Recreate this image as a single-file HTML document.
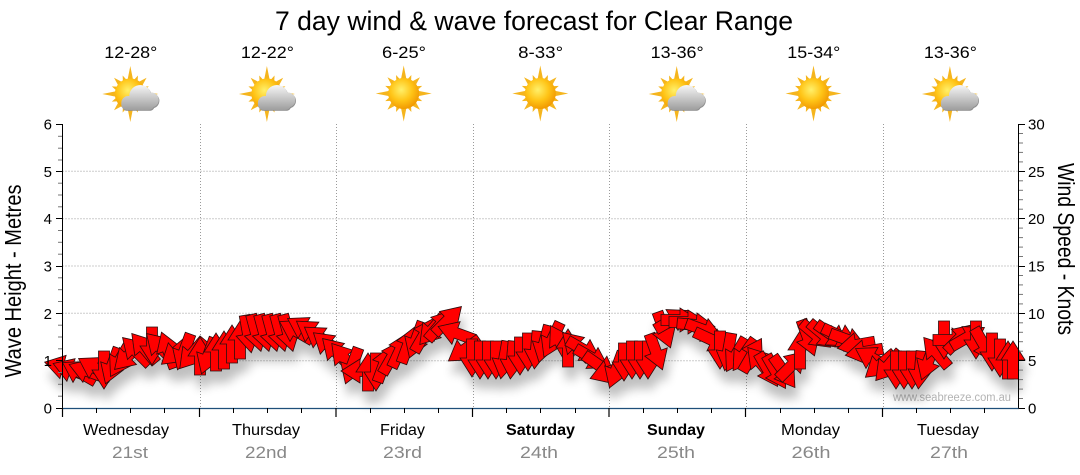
<!DOCTYPE html>
<html><head><meta charset="utf-8"><style>
html,body{margin:0;padding:0;background:#fff;}
svg{display:block;font-family:"Liberation Sans","DejaVu Sans",sans-serif;}
</style></head><body>
<svg width="1080" height="475" viewBox="0 0 1080 475" xmlns="http://www.w3.org/2000/svg">
<defs>
 <radialGradient id="sunG" cx="0.42" cy="0.38" r="0.65">
  <stop offset="0" stop-color="#fff06a"/>
  <stop offset="0.55" stop-color="#ffc416"/>
  <stop offset="1" stop-color="#f09600"/>
 </radialGradient>
 <linearGradient id="cloudG" gradientUnits="userSpaceOnUse" x1="0" y1="-9" x2="0" y2="17">
  <stop offset="0" stop-color="#f6f6f6"/><stop offset="1" stop-color="#9a9a9a"/>
 </linearGradient>
 <polygon id="rL" points="-3,-13 3,-13 0,-28"/>
 <polygon id="rM" points="-3,-13 3,-13 0,-23"/>
 <polygon id="rS" points="-2.5,-13 2.5,-13 0,-20"/>
 <g id="sun">
  <g fill="#f5b51e">
   <use href="#rL"/><use href="#rL" transform="rotate(90)"/><use href="#rL" transform="rotate(180)"/><use href="#rL" transform="rotate(270)"/>
   <use href="#rM" transform="rotate(45)"/><use href="#rM" transform="rotate(135)"/><use href="#rM" transform="rotate(225)"/><use href="#rM" transform="rotate(315)"/>
   <use href="#rS" transform="rotate(22.5)"/><use href="#rS" transform="rotate(67.5)"/><use href="#rS" transform="rotate(112.5)"/><use href="#rS" transform="rotate(157.5)"/>
   <use href="#rS" transform="rotate(202.5)"/><use href="#rS" transform="rotate(247.5)"/><use href="#rS" transform="rotate(292.5)"/><use href="#rS" transform="rotate(337.5)"/>
  </g>
  <circle r="15.5" fill="url(#sunG)"/>
 </g>
 <g id="cloud">
  <g fill="#8c8c8c" transform="translate(0.6,0.8)">
   <circle cx="10" cy="2" r="11"/><circle cx="-2" cy="9" r="7"/><circle cx="21" cy="6" r="7.5"/><rect x="-9" y="5" width="33" height="11" rx="5.5"/>
  </g>
  <g fill="url(#cloudG)">
   <circle cx="10" cy="2" r="11"/><circle cx="-2" cy="9" r="7"/><circle cx="21" cy="6" r="7.5"/><rect x="-9" y="5" width="33" height="11" rx="5.5"/>
  </g>
 </g>
 <g id="pc"><use href="#sun"/><use href="#cloud"/></g>
 <path id="ar" d="M0,-19 L12,0 L5.5,0 L5.5,19 L-5.5,19 L-5.5,0 L-12,0 Z"/>
 <filter id="sh" x="-10%" y="-40%" width="120%" height="200%">
  <feGaussianBlur in="SourceAlpha" stdDeviation="5"/>
  <feOffset dx="3" dy="12" result="b"/>
  <feComponentTransfer><feFuncA type="linear" slope="0.25"/></feComponentTransfer>
  <feMerge><feMergeNode/><feMergeNode in="SourceGraphic"/></feMerge>
 </filter>
</defs>

<text x="534" y="30" font-size="27" text-anchor="middle" textLength="518" lengthAdjust="spacingAndGlyphs" fill="#000">7 day wind &amp; wave forecast for Clear Range</text>

<g font-size="17" text-anchor="middle" fill="#000">
 <text x="130.8" y="58" textLength="53" lengthAdjust="spacingAndGlyphs">12-28°</text>
 <text x="267.4" y="58" textLength="53" lengthAdjust="spacingAndGlyphs">12-22°</text>
 <text x="404" y="58" textLength="44" lengthAdjust="spacingAndGlyphs">6-25°</text>
 <text x="540.6" y="58" textLength="45" lengthAdjust="spacingAndGlyphs">8-33°</text>
 <text x="677.2" y="58" textLength="53" lengthAdjust="spacingAndGlyphs">13-36°</text>
 <text x="813.8" y="58" textLength="53" lengthAdjust="spacingAndGlyphs">15-34°</text>
 <text x="950.4" y="58" textLength="53" lengthAdjust="spacingAndGlyphs">13-36°</text>
</g>

<use href="#pc" transform="translate(130.3,94)"/>
<use href="#pc" transform="translate(266.9,94)"/>
<use href="#sun" transform="translate(403.7,93.5)"/>
<use href="#sun" transform="translate(540.3,93.5)"/>
<use href="#pc" transform="translate(676.7,94)"/>
<use href="#sun" transform="translate(813.5,93.5)"/>
<use href="#pc" transform="translate(949.9,94)"/>

<g stroke="#9a9a9a" stroke-width="1" stroke-dasharray="1,2" fill="none">
 <line x1="62.5" y1="360.7" x2="1018" y2="360.7"/>
 <line x1="62.5" y1="313.3" x2="1018" y2="313.3"/>
 <line x1="62.5" y1="266" x2="1018" y2="266"/>
 <line x1="62.5" y1="218.7" x2="1018" y2="218.7"/>
 <line x1="62.5" y1="171.3" x2="1018" y2="171.3"/>
 <line x1="200.5" y1="124" x2="200.5" y2="408"/>
 <line x1="336.5" y1="124" x2="336.5" y2="408"/>
 <line x1="473.5" y1="124" x2="473.5" y2="408"/>
 <line x1="609.5" y1="124" x2="609.5" y2="408"/>
 <line x1="746.5" y1="124" x2="746.5" y2="408"/>
 <line x1="883.5" y1="124" x2="883.5" y2="408"/>
</g>

<text x="952" y="401" font-size="11.5" text-anchor="middle" fill="#b4b4b4" textLength="118" lengthAdjust="spacingAndGlyphs">www.seabreeze.com.au</text>

<g fill="#ff0000" stroke="#2a0a0a" stroke-width="0.8" filter="url(#sh)">
<use href="#ar" transform="translate(63,367) rotate(285)"/>
<use href="#ar" transform="translate(71,370) rotate(290)"/>
<use href="#ar" transform="translate(79,372) rotate(300)"/>
<use href="#ar" transform="translate(87,371) rotate(290)"/>
<use href="#ar" transform="translate(95,368) rotate(300)"/>
<use href="#ar" transform="translate(104,370) rotate(180)"/>
<use href="#ar" transform="translate(112,366) rotate(200)"/>
<use href="#ar" transform="translate(120,360) rotate(210)"/>
<use href="#ar" transform="translate(128,356) rotate(225)"/>
<use href="#ar" transform="translate(136,351) rotate(315)"/>
<use href="#ar" transform="translate(144,348) rotate(320)"/>
<use href="#ar" transform="translate(152,346) rotate(180)"/>
<use href="#ar" transform="translate(160,347) rotate(315)"/>
<use href="#ar" transform="translate(168,350) rotate(340)"/>
<use href="#ar" transform="translate(176,352) rotate(230)"/>
<use href="#ar" transform="translate(184,352) rotate(200)"/>
<use href="#ar" transform="translate(192,354) rotate(220)"/>
<use href="#ar" transform="translate(200,356) rotate(0)"/>
<use href="#ar" transform="translate(208,356) rotate(200)"/>
<use href="#ar" transform="translate(216,352) rotate(0)"/>
<use href="#ar" transform="translate(224,350) rotate(0)"/>
<use href="#ar" transform="translate(232,344) rotate(0)"/>
<use href="#ar" transform="translate(240,340) rotate(0)"/>
<use href="#ar" transform="translate(248,334) rotate(170)"/>
<use href="#ar" transform="translate(256,333) rotate(165)"/>
<use href="#ar" transform="translate(264,333) rotate(165)"/>
<use href="#ar" transform="translate(272,333) rotate(165)"/>
<use href="#ar" transform="translate(280,333) rotate(165)"/>
<use href="#ar" transform="translate(288,333) rotate(165)"/>
<use href="#ar" transform="translate(296,331) rotate(300)"/>
<use href="#ar" transform="translate(304,328) rotate(300)"/>
<use href="#ar" transform="translate(312,332) rotate(305)"/>
<use href="#ar" transform="translate(320,338) rotate(305)"/>
<use href="#ar" transform="translate(328,345) rotate(310)"/>
<use href="#ar" transform="translate(336,352) rotate(315)"/>
<use href="#ar" transform="translate(344,358) rotate(320)"/>
<use href="#ar" transform="translate(352,366) rotate(200)"/>
<use href="#ar" transform="translate(360,371) rotate(270)"/>
<use href="#ar" transform="translate(368,372) rotate(0)"/>
<use href="#ar" transform="translate(376,372) rotate(180)"/>
<use href="#ar" transform="translate(384,364) rotate(20)"/>
<use href="#ar" transform="translate(392,357) rotate(30)"/>
<use href="#ar" transform="translate(400,350) rotate(25)"/>
<use href="#ar" transform="translate(408,345) rotate(20)"/>
<use href="#ar" transform="translate(416,340) rotate(200)"/>
<use href="#ar" transform="translate(424,335) rotate(30)"/>
<use href="#ar" transform="translate(432,330) rotate(220)"/>
<use href="#ar" transform="translate(440,325) rotate(40)"/>
<use href="#ar" transform="translate(448,320) rotate(45)"/>
<use href="#ar" transform="translate(456,333) rotate(290)"/>
<use href="#ar" transform="translate(464,350) rotate(235)"/>
<use href="#ar" transform="translate(472,358) rotate(180)"/>
<use href="#ar" transform="translate(480,360) rotate(180)"/>
<use href="#ar" transform="translate(488,360) rotate(180)"/>
<use href="#ar" transform="translate(496,360) rotate(180)"/>
<use href="#ar" transform="translate(504,360) rotate(190)"/>
<use href="#ar" transform="translate(512,360) rotate(185)"/>
<use href="#ar" transform="translate(520,356) rotate(180)"/>
<use href="#ar" transform="translate(528,352) rotate(180)"/>
<use href="#ar" transform="translate(536,350) rotate(185)"/>
<use href="#ar" transform="translate(544,344) rotate(195)"/>
<use href="#ar" transform="translate(552,340) rotate(205)"/>
<use href="#ar" transform="translate(560,342) rotate(330)"/>
<use href="#ar" transform="translate(568,348) rotate(0)"/>
<use href="#ar" transform="translate(576,346) rotate(315)"/>
<use href="#ar" transform="translate(584,350) rotate(120)"/>
<use href="#ar" transform="translate(592,358) rotate(120)"/>
<use href="#ar" transform="translate(600,366) rotate(125)"/>
<use href="#ar" transform="translate(608,372) rotate(250)"/>
<use href="#ar" transform="translate(616,370) rotate(200)"/>
<use href="#ar" transform="translate(624,362) rotate(180)"/>
<use href="#ar" transform="translate(632,360) rotate(180)"/>
<use href="#ar" transform="translate(640,360) rotate(180)"/>
<use href="#ar" transform="translate(648,360) rotate(180)"/>
<use href="#ar" transform="translate(656,352) rotate(160)"/>
<use href="#ar" transform="translate(664,330) rotate(160)"/>
<use href="#ar" transform="translate(672,320) rotate(60)"/>
<use href="#ar" transform="translate(680,320) rotate(90)"/>
<use href="#ar" transform="translate(688,322) rotate(90)"/>
<use href="#ar" transform="translate(696,325) rotate(95)"/>
<use href="#ar" transform="translate(704,330) rotate(110)"/>
<use href="#ar" transform="translate(712,340) rotate(115)"/>
<use href="#ar" transform="translate(720,350) rotate(180)"/>
<use href="#ar" transform="translate(728,352) rotate(190)"/>
<use href="#ar" transform="translate(736,355) rotate(210)"/>
<use href="#ar" transform="translate(744,355) rotate(215)"/>
<use href="#ar" transform="translate(752,355) rotate(30)"/>
<use href="#ar" transform="translate(760,362) rotate(320)"/>
<use href="#ar" transform="translate(768,370) rotate(150)"/>
<use href="#ar" transform="translate(776,372) rotate(150)"/>
<use href="#ar" transform="translate(784,372) rotate(145)"/>
<use href="#ar" transform="translate(792,365) rotate(45)"/>
<use href="#ar" transform="translate(800,350) rotate(0)"/>
<use href="#ar" transform="translate(808,338) rotate(160)"/>
<use href="#ar" transform="translate(816,335) rotate(130)"/>
<use href="#ar" transform="translate(824,335) rotate(130)"/>
<use href="#ar" transform="translate(832,335) rotate(125)"/>
<use href="#ar" transform="translate(840,336) rotate(115)"/>
<use href="#ar" transform="translate(848,340) rotate(110)"/>
<use href="#ar" transform="translate(856,345) rotate(260)"/>
<use href="#ar" transform="translate(864,352) rotate(260)"/>
<use href="#ar" transform="translate(872,358) rotate(300)"/>
<use href="#ar" transform="translate(880,365) rotate(230)"/>
<use href="#ar" transform="translate(888,366) rotate(220)"/>
<use href="#ar" transform="translate(896,370) rotate(180)"/>
<use href="#ar" transform="translate(904,370) rotate(180)"/>
<use href="#ar" transform="translate(912,370) rotate(180)"/>
<use href="#ar" transform="translate(920,370) rotate(185)"/>
<use href="#ar" transform="translate(928,362) rotate(200)"/>
<use href="#ar" transform="translate(936,352) rotate(320)"/>
<use href="#ar" transform="translate(944,340) rotate(180)"/>
<use href="#ar" transform="translate(952,340) rotate(90)"/>
<use href="#ar" transform="translate(960,338) rotate(45)"/>
<use href="#ar" transform="translate(968,337) rotate(60)"/>
<use href="#ar" transform="translate(976,340) rotate(180)"/>
<use href="#ar" transform="translate(984,345) rotate(150)"/>
<use href="#ar" transform="translate(992,352) rotate(180)"/>
<use href="#ar" transform="translate(1000,358) rotate(180)"/>
<use href="#ar" transform="translate(1008,360) rotate(0)"/>
<use href="#ar" transform="translate(1013,360) rotate(0)"/>
</g>

<line x1="62.5" y1="124" x2="62.5" y2="408" stroke="#000" stroke-width="1"/>
<line x1="1018.5" y1="124" x2="1018.5" y2="408" stroke="#000" stroke-width="1"/>
<line x1="62" y1="408.5" x2="1019" y2="408.5" stroke="#1e4f7a" stroke-width="1.3"/>

<g stroke="#000" stroke-width="1">
 <line x1="56" y1="124.5" x2="62.5" y2="124.5"/>
 <line x1="56" y1="171.5" x2="62.5" y2="171.5"/>
 <line x1="56" y1="218.5" x2="62.5" y2="218.5"/>
 <line x1="56" y1="266.5" x2="62.5" y2="266.5"/>
 <line x1="56" y1="313.5" x2="62.5" y2="313.5"/>
 <line x1="56" y1="360.5" x2="62.5" y2="360.5"/>
 <line x1="56" y1="408.5" x2="62.5" y2="408.5"/>
 <line x1="1018.5" y1="124.5" x2="1025" y2="124.5"/>
 <line x1="1018.5" y1="171.5" x2="1025" y2="171.5"/>
 <line x1="1018.5" y1="218.5" x2="1025" y2="218.5"/>
 <line x1="1018.5" y1="266.5" x2="1025" y2="266.5"/>
 <line x1="1018.5" y1="313.5" x2="1025" y2="313.5"/>
 <line x1="1018.5" y1="360.5" x2="1025" y2="360.5"/>
 <line x1="1018.5" y1="408.5" x2="1025" y2="408.5"/>
</g>
<g stroke="#777" stroke-width="1">
 <line x1="58" y1="136.3" x2="62" y2="136.3"/><line x1="58" y1="148.2" x2="62" y2="148.2"/><line x1="58" y1="160" x2="62" y2="160"/>
 <line x1="58" y1="183.2" x2="62" y2="183.2"/><line x1="58" y1="195" x2="62" y2="195"/><line x1="58" y1="206.8" x2="62" y2="206.8"/>
 <line x1="58" y1="230.5" x2="62" y2="230.5"/><line x1="58" y1="242.3" x2="62" y2="242.3"/><line x1="58" y1="254.2" x2="62" y2="254.2"/>
 <line x1="58" y1="277.8" x2="62" y2="277.8"/><line x1="58" y1="289.7" x2="62" y2="289.7"/><line x1="58" y1="301.5" x2="62" y2="301.5"/>
 <line x1="58" y1="325.2" x2="62" y2="325.2"/><line x1="58" y1="337" x2="62" y2="337"/><line x1="58" y1="348.8" x2="62" y2="348.8"/>
 <line x1="58" y1="372.5" x2="62" y2="372.5"/><line x1="58" y1="384.3" x2="62" y2="384.3"/><line x1="58" y1="396.2" x2="62" y2="396.2"/>
 <line x1="1019" y1="133.5" x2="1023" y2="133.5"/><line x1="1019" y1="143" x2="1023" y2="143"/><line x1="1019" y1="152.4" x2="1023" y2="152.4"/><line x1="1019" y1="161.9" x2="1023" y2="161.9"/>
 <line x1="1019" y1="180.8" x2="1023" y2="180.8"/><line x1="1019" y1="190.3" x2="1023" y2="190.3"/><line x1="1019" y1="199.7" x2="1023" y2="199.7"/><line x1="1019" y1="209.2" x2="1023" y2="209.2"/>
 <line x1="1019" y1="228.1" x2="1023" y2="228.1"/><line x1="1019" y1="237.6" x2="1023" y2="237.6"/><line x1="1019" y1="247.1" x2="1023" y2="247.1"/><line x1="1019" y1="256.5" x2="1023" y2="256.5"/>
 <line x1="1019" y1="275.5" x2="1023" y2="275.5"/><line x1="1019" y1="284.9" x2="1023" y2="284.9"/><line x1="1019" y1="294.4" x2="1023" y2="294.4"/><line x1="1019" y1="303.9" x2="1023" y2="303.9"/>
 <line x1="1019" y1="322.8" x2="1023" y2="322.8"/><line x1="1019" y1="332.3" x2="1023" y2="332.3"/><line x1="1019" y1="341.7" x2="1023" y2="341.7"/><line x1="1019" y1="351.2" x2="1023" y2="351.2"/>
 <line x1="1019" y1="370.1" x2="1023" y2="370.1"/><line x1="1019" y1="379.6" x2="1023" y2="379.6"/><line x1="1019" y1="389.1" x2="1023" y2="389.1"/><line x1="1019" y1="398.5" x2="1023" y2="398.5"/>
</g>
<g stroke="#000" stroke-width="1.2">
 <line x1="62.5" y1="408" x2="62.5" y2="417"/>
 <line x1="199.5" y1="408" x2="199.5" y2="417"/>
 <line x1="336" y1="408" x2="336" y2="417"/>
 <line x1="472.5" y1="408" x2="472.5" y2="417"/>
 <line x1="609" y1="408" x2="609" y2="417"/>
 <line x1="745.5" y1="408" x2="745.5" y2="417"/>
 <line x1="882.5" y1="408" x2="882.5" y2="417"/>
</g>
<g stroke="#000" stroke-width="1">
 <line x1="96.5" y1="408" x2="96.5" y2="413"/><line x1="130.5" y1="408" x2="130.5" y2="413"/><line x1="164.5" y1="408" x2="164.5" y2="413"/>
 <line x1="233.5" y1="408" x2="233.5" y2="413"/><line x1="267.5" y1="408" x2="267.5" y2="413"/><line x1="301.5" y1="408" x2="301.5" y2="413"/>
 <line x1="370.5" y1="408" x2="370.5" y2="413"/><line x1="404.5" y1="408" x2="404.5" y2="413"/><line x1="438.5" y1="408" x2="438.5" y2="413"/>
 <line x1="506.5" y1="408" x2="506.5" y2="413"/><line x1="540.5" y1="408" x2="540.5" y2="413"/><line x1="575.5" y1="408" x2="575.5" y2="413"/>
 <line x1="643.5" y1="408" x2="643.5" y2="413"/><line x1="677.5" y1="408" x2="677.5" y2="413"/><line x1="711.5" y1="408" x2="711.5" y2="413"/>
 <line x1="780.5" y1="408" x2="780.5" y2="413"/><line x1="814.5" y1="408" x2="814.5" y2="413"/><line x1="848.5" y1="408" x2="848.5" y2="413"/>
 <line x1="916.5" y1="408" x2="916.5" y2="413"/><line x1="950.5" y1="408" x2="950.5" y2="413"/><line x1="984.5" y1="408" x2="984.5" y2="413"/>
</g>

<g font-size="15" text-anchor="end" fill="#000">
 <text x="52" y="129.5">6</text>
 <text x="52" y="176.8">5</text>
 <text x="52" y="224.2">4</text>
 <text x="52" y="271.5">3</text>
 <text x="52" y="318.8">2</text>
 <text x="52" y="366.2">1</text>
 <text x="52" y="413.5">0</text>
</g>
<g font-size="15" text-anchor="start" fill="#000">
 <text x="1028" y="129.5">30</text>
 <text x="1028" y="176.8">25</text>
 <text x="1028" y="224.2">20</text>
 <text x="1028" y="271.5">15</text>
 <text x="1028" y="318.8">10</text>
 <text x="1028" y="366.2">5</text>
 <text x="1028" y="413.5">0</text>
</g>

<text transform="translate(21,281) rotate(-90)" font-size="23" text-anchor="middle" fill="#000" textLength="193" lengthAdjust="spacingAndGlyphs">Wave Height - Metres</text>
<text transform="translate(1058,249) rotate(90)" font-size="23" text-anchor="middle" fill="#000" textLength="172" lengthAdjust="spacingAndGlyphs">Wind Speed - Knots</text>

<g font-size="16" text-anchor="middle" fill="#000">
 <text x="126" y="435" textLength="86" lengthAdjust="spacingAndGlyphs">Wednesday</text>
 <text x="266" y="435" textLength="68" lengthAdjust="spacingAndGlyphs">Thursday</text>
 <text x="402.5" y="435" textLength="45" lengthAdjust="spacingAndGlyphs">Friday</text>
 <text x="540.5" y="435" font-weight="bold" textLength="69" lengthAdjust="spacingAndGlyphs">Saturday</text>
 <text x="676" y="435" font-weight="bold" textLength="58" lengthAdjust="spacingAndGlyphs">Sunday</text>
 <text x="810.5" y="435" textLength="59" lengthAdjust="spacingAndGlyphs">Monday</text>
 <text x="948" y="435" textLength="62" lengthAdjust="spacingAndGlyphs">Tuesday</text>
</g>
<g font-size="17" text-anchor="middle" fill="#888">
 <text x="130" y="458" textLength="36" lengthAdjust="spacingAndGlyphs">21st</text>
 <text x="266" y="458" textLength="42" lengthAdjust="spacingAndGlyphs">22nd</text>
 <text x="402.5" y="458" textLength="39" lengthAdjust="spacingAndGlyphs">23rd</text>
 <text x="539" y="458" textLength="38" lengthAdjust="spacingAndGlyphs">24th</text>
 <text x="676" y="458" textLength="38" lengthAdjust="spacingAndGlyphs">25th</text>
 <text x="811" y="458" textLength="39" lengthAdjust="spacingAndGlyphs">26th</text>
 <text x="949" y="458" textLength="38" lengthAdjust="spacingAndGlyphs">27th</text>
</g>
</svg>
</body></html>
